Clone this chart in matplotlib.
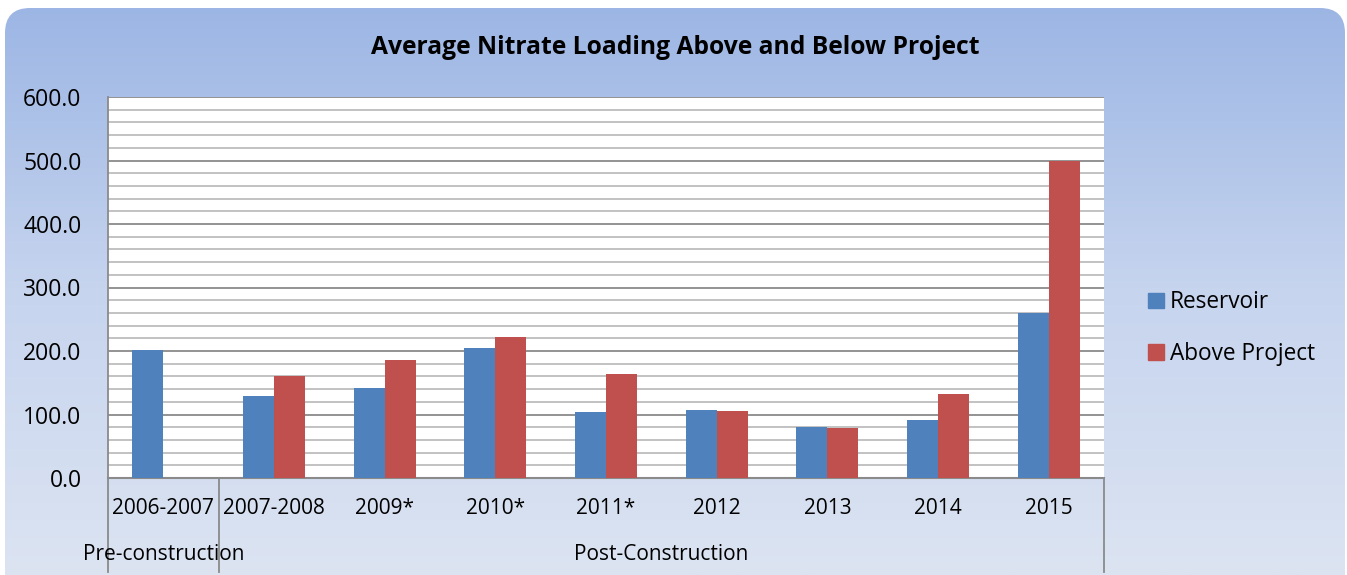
import numpy as np
import matplotlib
matplotlib.use("Agg")
import matplotlib.pyplot as plt
from matplotlib.patches import FancyBboxPatch, Patch
from matplotlib.colors import LinearSegmentedColormap

plt.rcParams['font.family'] = ['Open Sans', 'DejaVu Sans']

categories = ["2006-2007", "2007-2008", "2009*", "2010*", "2011*", "2012", "2013", "2014", "2015"]
reservoir = [201, 129, 142, 205, 104, 107, 81, 91, 260]
above_project = [np.nan, 161, 186, 222, 164, 105, 79, 132, 500]
groups = ["Pre-construction", "Post-Construction"]
group_spans = [(0, 0), (1, 8)]

W, H = 1347, 575
fig = plt.figure(figsize=(W / 100, H / 100), dpi=100, facecolor="white")

# gradient background in a rounded box
bg = fig.add_axes([0, 0, 1, 1], zorder=0)
bg.set_xlim(0, W)
bg.set_ylim(0, H)
bg.axis("off")
cmap = LinearSegmentedColormap.from_list("bg", ["#dce4f2", "#c6d4ee", "#9bb5e4"])
grad = np.linspace(0, 1, 256).reshape(-1, 1)
im = bg.imshow(grad, cmap=cmap, extent=[0, W, 0, H], origin="lower", aspect="auto")
box = FancyBboxPatch((5 + 25, -30), W - 7 - 50, H - 8 + 30 - 25,
                     boxstyle="round,pad=25", transform=bg.transData,
                     facecolor="none", edgecolor="none")
bg.add_patch(box)
im.set_clip_path(box)

left, right, top, bottom = 108, 1104, 97, 478
ax = fig.add_axes([left / W, (H - bottom) / H, (right - left) / W, (bottom - top) / H], zorder=1)
ax.set_facecolor("white")

x = np.arange(len(categories))
bw = 0.28
ax.bar(x - bw / 2, reservoir, bw, color="#4f81bd", label="Reservoir", zorder=3)
ax.bar(x + bw / 2, above_project, bw, color="#c0504d", label="Above Project", zorder=3)

ax.set_xlim(-0.5, len(categories) - 0.5)
ax.set_ylim(0, 600)
ax.set_yticks(np.arange(0, 601, 100))
ax.set_yticks(np.arange(0, 601, 20), minor=True)
ax.set_yticklabels([f"{v:.1f}" for v in np.arange(0, 601, 100)], fontsize=16.5)
ax.tick_params(axis="y", which="both", length=0, pad=19)
ax.set_xticks([])
ax.grid(axis="y", which="minor", color="#bdbdbd", linewidth=1.3, zorder=0)
ax.grid(axis="y", which="major", color="#8a8a8a", linewidth=1.3, zorder=1)
for s in ["top", "right"]:
    ax.spines[s].set_visible(False)
ax.spines["left"].set_color("#8a8a8a")
ax.spines["bottom"].set_color("#8a8a8a")
ax.spines["left"].set_linewidth(1.3)
ax.spines["bottom"].set_linewidth(1.5)

# multi-level category axis
trans = ax.get_xaxis_transform()
for i, c in enumerate(categories):
    ax.text(i, -0.079, c, transform=trans, ha="center", va="center", fontsize=15)
for g, (a, b) in zip(groups, group_spans):
    ax.text((a + b) / 2, -0.2, g, transform=trans, ha="center", va="center", fontsize=15)
for xs in [-0.5, 0.5, len(categories) - 0.5]:
    ax.plot([xs, xs], [0, -0.247], transform=trans, color="#8a8a8a", lw=1.3, clip_on=False)

fig.text(675 / W, 1 - 47 / H, "Average Nitrate Loading Above and Below Project",
         ha="center", va="center", fontsize=17.7, fontweight="bold")

handles = [Patch(color="#4f81bd"), Patch(color="#c0504d")]
fig.legend(handles, ["Reservoir", "Above Project"], loc="center left",
           bbox_to_anchor=(1128 / W, 1 - 328 / H), frameon=False, fontsize=16.3,
           handlelength=0.7, handleheight=0.7, handletextpad=0.25, labelspacing=1.2)

fig.savefig("out.png", dpi=100, facecolor="white")
